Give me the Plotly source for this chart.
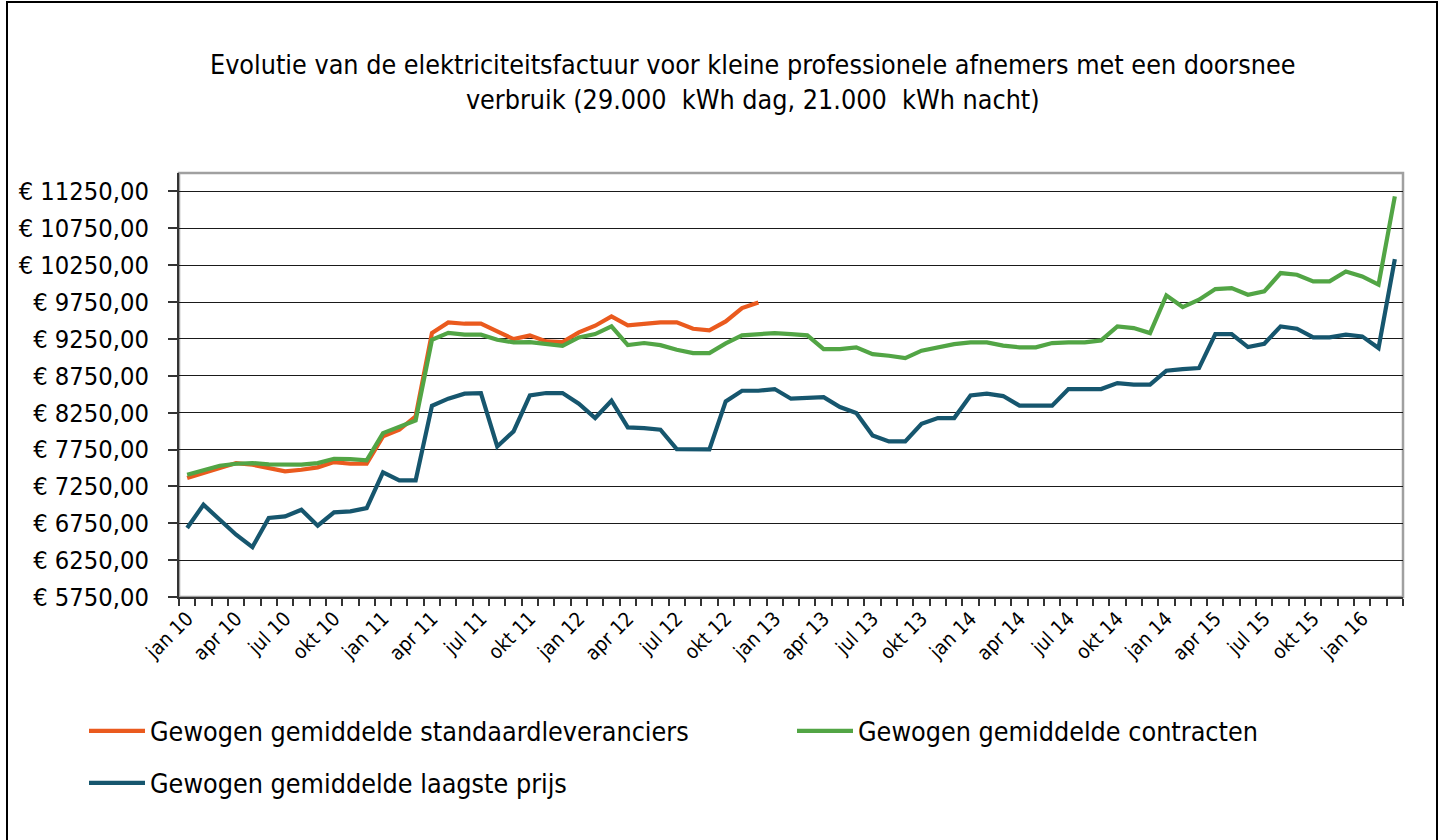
import plotly.graph_objects as go

# ---------------- data ----------------
month_names = ["jan", "feb", "mrt", "apr", "mei", "jun", "jul", "aug", "sep", "okt", "nov", "dec"]
years = ["10", "11", "12", "13", "14", "15", "16"]
n_months = 75  # jan 10 .. mrt 16
categories = [f"{m} {y}" for y in years for m in month_names][:n_months]

# tick labels shown on the axis (every 3rd month, as printed in the original)
x_tick_labels = ["jan 10", "apr 10", "jul 10", "okt 10", "jan 11", "apr 11", "jul 11", "okt 11",
                 "jan 12", "apr 12", "jul 12", "okt 12", "jan 13", "apr 13", "jul 13", "okt 13",
                 "jan 14", "apr 14", "jul 14", "okt 14", "jan 14", "apr 15", "jul 15", "okt 15",
                 "jan 16"]

standaardleveranciers = [7363, 7431, 7508, 7566, 7544, 7499, 7453, 7476, 7508, 7580, 7557, 7557,
                         7928, 8018, 8199, 9329, 9474, 9456, 9456, 9352, 9248, 9298, 9216, 9207,
                         9338, 9429, 9555, 9433, 9451, 9474, 9474, 9388, 9365, 9487, 9668, 9745]

contracten = [7408, 7476, 7530, 7557, 7566, 7548, 7548, 7544, 7566, 7625, 7620, 7603,
              7973, 8064, 8145, 9239, 9333, 9307, 9307, 9239, 9203, 9207, 9180, 9157,
              9270, 9316, 9420, 9166, 9194, 9166, 9103, 9058, 9058, 9190, 9298, 9310,
              9329, 9316, 9298, 9112, 9112, 9135, 9044, 9022, 8990, 9090, 9135, 9180,
              9203, 9203, 9160, 9135, 9135, 9194, 9203, 9203, 9230, 9420, 9397, 9329,
              9840, 9682, 9781, 9926, 9939, 9849, 9894, 10143, 10120, 10030, 10030, 10165,
              10098, 9985, 11182]

laagste_prijs = [6685, 7001, 6798, 6595, 6427, 6821, 6843, 6934, 6717, 6898, 6911, 6956,
                 7440, 7331, 7331, 8344, 8440, 8507, 8516, 7792, 7996, 8484, 8516, 8516,
                 8371, 8177, 8412, 8050, 8041, 8018, 7756, 7756, 7752, 8403, 8547, 8547,
                 8570, 8439, 8457, 8461, 8326, 8244, 7941, 7860, 7860, 8100, 8177, 8177,
                 8484, 8507, 8475, 8346, 8344, 8344, 8570, 8570, 8570, 8651, 8629, 8629,
                 8818, 8841, 8855, 9316, 9316, 9139, 9185, 9420, 9388, 9270, 9270, 9307,
                 9284, 9126, 10333]

series_names = ["Gewogen gemiddelde standaardleveranciers",
                "Gewogen gemiddelde contracten",
                "Gewogen gemiddelde laagste prijs"]

title_text = ("Evolutie van de elektriciteitsfactuur voor kleine professionele afnemers met een doorsnee"
              "<br>verbruik (29.000  kWh dag, 21.000  kWh nacht)")

# ---------------- layout constants ----------------
W, H = 1441, 840
ML, MR, MT, MB = 179, 38, 173, 243
PW, PH = W - ML - MR, H - MT - MB
FONT = "DejaVu Sans Condensed, Roboto, DejaVu Sans, sans-serif"


def px_x(px):
    return (px - ML) / PW


def px_y(py):
    return (H - MB - py) / PH


ticktext = []
label_iter = iter(x_tick_labels)
for i in range(n_months):
    ticktext.append(next(label_iter) if i % 3 == 0 else "")

colors = ["#EA5A1E", "#52A545", "#16566E"]
series = [standaardleveranciers, contracten, laagste_prijs]
legends = ["legend", "legend2", "legend3"]

fig = go.Figure()
for name, vals, col, lg in zip(series_names, series, colors, legends):
    fig.add_trace(go.Scatter(
        x=categories[:len(vals)], y=vals, name=name, mode="lines",
        line=dict(color=col, width=4.2), legend=lg,
    ))

legend_common = dict(orientation="h", bgcolor="rgba(0,0,0,0)",
                     font=dict(family=FONT, size=26.7, color="#000000"),
                     xanchor="left", yanchor="middle", itemwidth=56)

fig.update_layout(
    width=W, height=H,
    margin=dict(l=ML, r=MR, t=MT, b=MB, autoexpand=False),
    paper_bgcolor="white", plot_bgcolor="white",
    separators=",.",
    legend=dict(**legend_common, x=px_x(84), y=px_y(731)),
    legend2=dict(**legend_common, x=px_x(792), y=px_y(731)),
    legend3=dict(**legend_common, x=px_x(84), y=px_y(783)),
    xaxis=dict(type="category", categoryorder="array", categoryarray=categories,
               range=[-0.5, n_months - 0.5], tickmode="array", tickvals=categories,
               ticktext=ticktext, tickson="boundaries", ticks="outside", ticklen=7,
               tickwidth=1.5, tickcolor="#333333", tickangle=-45, showgrid=False,
               showline=True, linecolor="#333333", linewidth=2,
               tickfont=dict(family=FONT, size=20, color="#000000")),
    yaxis=dict(range=[5750, 11500], tick0=5750, dtick=500, tickformat=".2f", tickprefix="€ ",
               ticks="outside", ticklen=9, tickwidth=1.5, tickcolor="#333333",
               showline=True, linecolor="#333333", linewidth=2,
               showgrid=True, gridcolor="#1a1a1a", gridwidth=1.4, zeroline=False,
               ticklabelstandoff=14,
               tickfont=dict(family=FONT, size=25.3, color="#000000")),
    showlegend=True,
)

# chart title
fig.add_annotation(text=title_text, xref="paper", yref="paper",
                   x=px_x(753), y=px_y(82), xanchor="center", yanchor="middle",
                   showarrow=False, align="center",
                   font=dict(family=FONT, size=26.7, color="#000000"))

# plot area border (top and right in grey)
fig.add_shape(type="rect", xref="paper", yref="paper", x0=0, x1=1, y0=0, y1=1,
              line=dict(color="#A0A0A0", width=2.5), layer="below")
# outer chart frame
fig.add_shape(type="rect", xref="paper", yref="paper",
              x0=px_x(7), x1=px_x(1437), y0=px_y(860), y1=px_y(2),
              line=dict(color="#000000", width=2), layer="below")

fig.write_html("out.html",
               config={"displayModeBar": False},
               post_script="document.body.style.margin='0px';document.body.style.overflow='hidden';")
